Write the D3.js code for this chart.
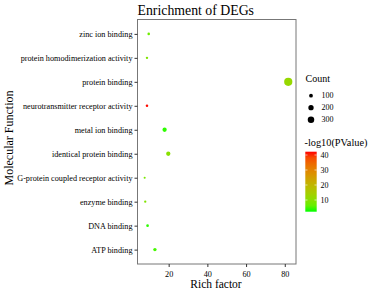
<!DOCTYPE html>
<html><head><meta charset="utf-8">
<script src="https://cdn.jsdelivr.net/npm/d3@7"></script>
<style>body{margin:0;background:#fff}svg{display:block}text{font-family:"Liberation Serif","Times New Roman",serif;fill:#000}</style>
</head><body><svg id="c" width="373" height="293"></svg>
<script>
const terms = ["zinc ion binding","protein homodimerization activity","protein binding","neurotransmitter receptor activity","metal ion binding","identical protein binding","G-protein coupled receptor activity","enzyme binding","DNA binding","ATP binding"];
const richFactor = [9.7, 8.8, 81.8, 8.8, 17.9, 19.8, 7.6, 7.9, 9.1, 12.9];
const counts = [45, 40, 480, 45, 130, 130, 30, 38, 50, 80];
const logP = [7, 9, 12, 42, 3, 10, 8, 9, 3, 4];
const xTicks = [20, 40, 60, 80];
const sizeLegend = [100, 200, 300];
const colorTicks = [10, 20, 30, 40];

const svg = d3.select("#c");
const L = 137.5, R = 296, T = 19.5, B = 264;

const x = d3.scaleLinear().domain([3.9, 85.8]).range([L, R]);
const y = d3.scalePoint().domain(terms).range([T, B]).padding(0.6);
const r = d3.scaleSqrt().domain([0, 500]).range([0, 4.2]);
const col = d3.scaleLinear().domain([2.2, 42.2]).range(["#00ff00", "#ff0000"]).interpolate(d3.interpolateLab);

// panel
svg.append("rect").attr("x", L).attr("y", T).attr("width", R - L).attr("height", B - T)
  .attr("fill", "#fff").attr("stroke", "#777").attr("stroke-width", 1);

// points
svg.append("g").selectAll("circle").data(terms).join("circle")
  .attr("cx", (d, i) => x(richFactor[i])).attr("cy", d => y(d))
  .attr("r", (d, i) => r(counts[i])).attr("fill", (d, i) => col(logP[i]));

// axes
const xa = svg.append("g").attr("transform", `translate(0,${B})`)
  .call(d3.axisBottom(x).tickValues(xTicks).tickSize(3).tickPadding(4));
const ya = svg.append("g").attr("transform", `translate(${L},0)`)
  .call(d3.axisLeft(y).tickSize(3).tickPadding(2));
[xa, ya].forEach(a => {
  a.attr("font-family", null);
  a.select(".domain").remove();
  a.selectAll("line").attr("stroke", "#333");
  a.selectAll("text").attr("font-size", 8.2).attr("fill", "#000");
});

// titles
svg.append("text").attr("x", L).attr("y", 15).attr("font-size", 13.8).text("Enrichment of DEGs");
svg.append("text").attr("x", 216).attr("y", 288).attr("text-anchor", "middle").attr("font-size", 11.5).text("Rich factor");
svg.append("text").attr("transform", `translate(13,138) rotate(-90)`).attr("text-anchor", "middle").attr("font-size", 12).text("Molecular Function");

// size legend
const lg = svg.append("g");
lg.append("text").attr("x", 305.5).attr("y", 82).attr("font-size", 10).text("Count");
sizeLegend.forEach((v, i) => {
  const cy = 95.7 + i * 12;
  lg.append("circle").attr("cx", 311).attr("cy", cy).attr("r", r(v)).attr("fill", "#000");
  lg.append("text").attr("x", 321.5).attr("y", cy + 2.6).attr("font-size", 8).text(v);
});

// color legend
lg.append("text").attr("x", 304.5).attr("y", 146).attr("font-size", 10.3).text("-log10(PValue)");
const defs = svg.append("defs");
const grad = defs.append("linearGradient").attr("id", "g").attr("x1", 0).attr("y1", 1).attr("x2", 0).attr("y2", 0);
d3.range(0, 1.001, 0.1).forEach(t => grad.append("stop").attr("offset", t).attr("stop-color", col(2.2 + t * 40)));
const cb = d3.scaleLinear().domain([2.2, 42.2]).range([211.7, 151.7]);
lg.append("rect").attr("x", 305.3).attr("y", 151.7).attr("width", 11.4).attr("height", 60).attr("fill", "url(#g)");
colorTicks.forEach(v => {
  lg.append("line").attr("x1", 305.3).attr("x2", 307.5).attr("y1", cb(v)).attr("y2", cb(v)).attr("stroke", "#fff").attr("stroke-width", 0.6);
  lg.append("line").attr("x1", 314.5).attr("x2", 316.7).attr("y1", cb(v)).attr("y2", cb(v)).attr("stroke", "#fff").attr("stroke-width", 0.6);
  lg.append("text").attr("x", 320.5).attr("y", cb(v) + 2.7).attr("font-size", 8).text(v);
});
</script></body></html>
